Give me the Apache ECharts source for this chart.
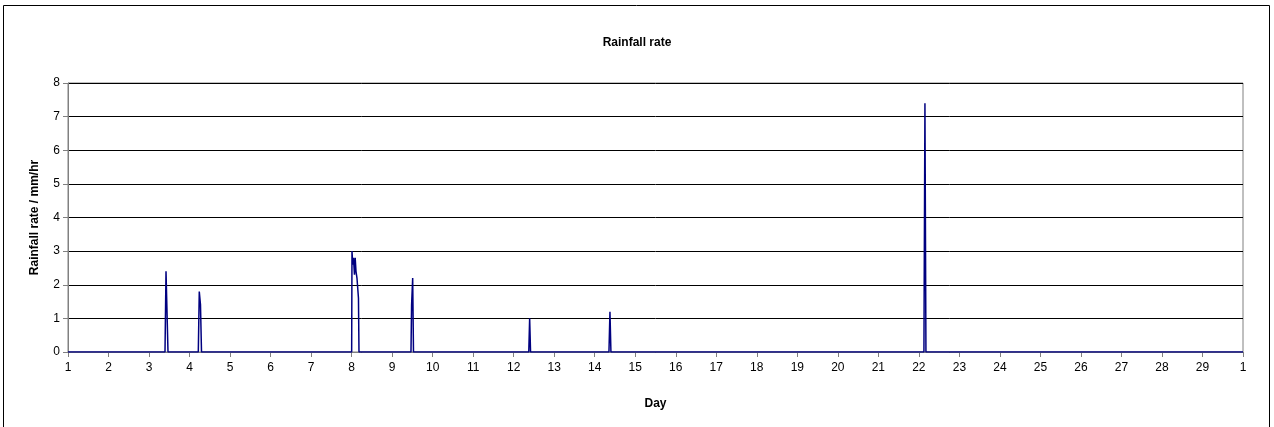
<!DOCTYPE html>
<html>
<head>
<meta charset="utf-8">
<script src="https://cdn.jsdelivr.net/npm/echarts@6/dist/echarts.min.js"></script>
<style>html,body{margin:0;padding:0;background:#fff;}#c{width:1274px;height:427px;}</style>
</head>
<body>
<div id="c"></div>
<script>
// Day (fractional) and rainfall rate (mm/hr)
const days = [1, 3.394, 3.419, 3.468, 4.216, 4.240, 4.270, 4.295,
  8.001, 8.009, 8.028, 8.046, 8.070, 8.088, 8.108, 8.132, 8.169, 8.182,
  9.465, 9.480, 9.507, 9.527, 12.372, 12.394, 12.416, 14.351, 14.376, 14.400,
  22.125, 22.150, 22.175, 30];
const rates = [0, 0, 2.4, 0, 0, 1.8, 1.4, 0,
  0, 3.0, 2.6, 2.8, 2.3, 2.8, 2.4, 2.2, 1.6, 0,
  0, 1.4, 2.2, 0, 0, 1.0, 0, 0, 1.2, 0,
  0, 7.4, 0, 0];
const yTicks = [0, 1, 2, 3, 4, 5, 6, 7, 8];

const chart = echarts.init(document.getElementById('c'));
const font = 'Liberation Sans, Arial, sans-serif';
chart.setOption({
  animation: false,
  title: {
    text: 'Rainfall rate', left: 'center', top: 32,
    textStyle: {fontFamily: font, fontSize: 12, fontWeight: 'bold', color: '#000'}
  },
  graphic: [{
    type: 'rect', shape: {x: 3.5, y: 5.5, width: 1266, height: 430},
    style: {fill: 'none', stroke: '#000', lineWidth: 1}, z: -1
  }],
  grid: {left: 68, right: 31, top: 83, bottom: 75, show: true, borderColor: '#808080', borderWidth: 1},
  xAxis: {
    type: 'value', min: 1, max: 30, interval: 1,
    name: 'Day', nameLocation: 'middle', nameGap: 46,
    nameTextStyle: {fontFamily: font, fontSize: 12, fontWeight: 'bold', color: '#000'},
    axisLine: {lineStyle: {color: '#808080'}},
    axisTick: {show: true, length: 5, lineStyle: {color: '#808080'}},
    axisLabel: {fontFamily: font, fontSize: 12, color: '#000', margin: 10,
      formatter: v => (v === 30 ? '1' : String(v))},
    splitLine: {show: false}
  },
  yAxis: {
    type: 'value', min: 0, max: 8, interval: 1,
    name: 'Rainfall rate / mm/hr', nameLocation: 'middle', nameGap: 27,
    nameTextStyle: {fontFamily: font, fontSize: 12, fontWeight: 'bold', color: '#000'},
    axisLine: {show: true, lineStyle: {color: '#808080'}},
    axisTick: {show: true, length: 5, lineStyle: {color: '#808080'}},
    axisLabel: {fontFamily: font, fontSize: 12, color: '#000', margin: 8,
      formatter: v => (yTicks.includes(v) ? String(v) : '')},
    splitLine: {lineStyle: {color: '#000', width: 1}}
  },
  series: [{
    type: 'line',
    data: days.map((d, i) => [d, rates[i]]),
    showSymbol: false,
    lineStyle: {color: '#000080', width: 1.5},
    z: 3
  }]
});
</script>
</body>
</html>
